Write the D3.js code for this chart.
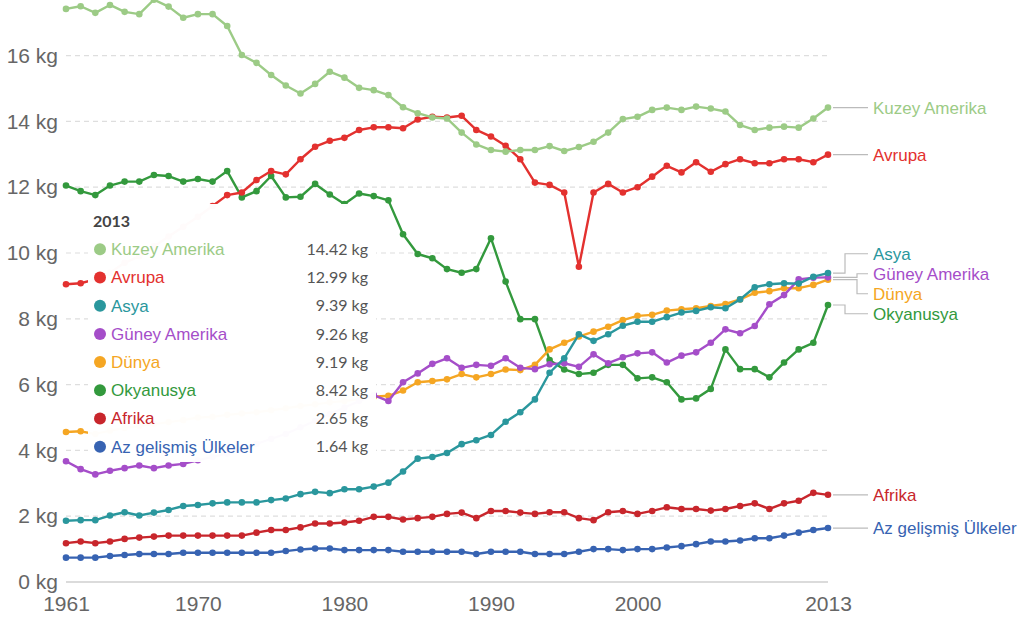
<!DOCTYPE html>
<html>
<head>
<meta charset="utf-8">
<script src="https://cdn.jsdelivr.net/npm/d3@7"></script>
<style>
  body { margin: 0; background: #fff; }
  svg { display: block; font-family: "Liberation Sans", Arial, sans-serif; }
</style>
</head>
<body>
<div id="chart"></div>
<script>
// DATA
const years = d3.range(1961, 2014);
const yTicks = [0, 2, 4, 6, 8, 10, 12, 14, 16];
const xTicks = [1961, 1970, 1980, 1990, 2000, 2013];

const kuzeyAmerika = [17.42,17.5,17.3,17.54,17.33,17.26,17.7,17.49,17.15,17.26,17.26,16.9,16.02,15.78,15.41,15.09,14.85,15.14,15.51,15.33,15.02,14.95,14.8,14.43,14.25,14.12,14.09,13.66,13.3,13.13,13.08,13.13,13.13,13.25,13.1,13.22,13.38,13.66,14.07,14.14,14.35,14.42,14.35,14.45,14.39,14.3,13.89,13.74,13.81,13.84,13.81,14.09,14.42];
const avrupa = [9.05,9.08,9.2,9.4,9.7,9.9,10.2,10.5,10.8,11.1,11.43,11.76,11.84,12.22,12.49,12.39,12.85,13.23,13.41,13.5,13.74,13.82,13.82,13.79,14.06,14.14,14.12,14.17,13.74,13.54,13.26,12.85,12.14,12.07,11.84,9.58,11.84,12.1,11.84,12.0,12.32,12.65,12.45,12.76,12.47,12.7,12.85,12.73,12.73,12.85,12.85,12.76,12.99];
const asya = [1.86,1.88,1.88,2.02,2.12,2.02,2.11,2.19,2.31,2.34,2.39,2.42,2.42,2.42,2.49,2.54,2.67,2.74,2.7,2.82,2.82,2.9,3.02,3.36,3.75,3.8,3.92,4.19,4.31,4.47,4.87,5.16,5.55,6.36,6.8,7.53,7.33,7.53,7.79,7.91,7.91,8.05,8.19,8.24,8.35,8.32,8.59,8.96,9.05,9.08,9.07,9.28,9.39];
const guneyAmerika = [3.67,3.43,3.27,3.38,3.46,3.54,3.46,3.54,3.59,3.7,3.8,3.9,4.05,4.2,4.35,4.5,4.7,4.9,5.1,5.3,5.5,5.68,5.5,6.07,6.34,6.63,6.8,6.51,6.6,6.57,6.8,6.51,6.47,6.62,6.65,6.54,6.92,6.65,6.83,6.95,6.98,6.67,6.88,6.98,7.27,7.68,7.56,7.78,8.44,8.72,9.2,9.25,9.26];
const dunya = [4.56,4.58,4.5,4.6,4.68,4.74,4.8,4.86,4.92,5.0,5.02,5.08,5.12,5.16,5.22,5.28,5.35,5.4,5.46,5.5,5.56,5.63,5.66,5.82,6.07,6.11,6.16,6.32,6.22,6.32,6.46,6.44,6.6,7.07,7.27,7.46,7.61,7.76,7.96,8.09,8.12,8.25,8.29,8.32,8.39,8.45,8.59,8.79,8.84,8.93,8.93,9.03,9.19];
const okyanusya = [12.05,11.88,11.76,12.05,12.17,12.17,12.37,12.34,12.17,12.25,12.17,12.49,11.69,11.88,12.34,11.69,11.71,12.1,11.78,11.49,11.81,11.73,11.6,10.57,9.97,9.84,9.51,9.4,9.51,10.45,9.13,7.99,7.99,6.75,6.46,6.32,6.36,6.6,6.6,6.19,6.22,6.07,5.55,5.58,5.87,7.07,6.47,6.47,6.22,6.67,7.07,7.27,8.42];
const afrika = [1.18,1.23,1.18,1.23,1.31,1.35,1.38,1.41,1.41,1.41,1.41,1.41,1.41,1.5,1.58,1.58,1.66,1.78,1.78,1.81,1.86,1.98,1.98,1.9,1.94,1.98,2.07,2.11,1.94,2.16,2.16,2.11,2.07,2.12,2.12,1.94,1.88,2.12,2.16,2.07,2.16,2.27,2.22,2.22,2.17,2.22,2.31,2.39,2.22,2.39,2.47,2.71,2.65];
const azGelismis = [0.74,0.74,0.74,0.79,0.82,0.85,0.85,0.85,0.89,0.89,0.89,0.89,0.89,0.89,0.89,0.94,0.99,1.02,1.02,0.97,0.97,0.97,0.97,0.92,0.92,0.92,0.92,0.92,0.85,0.92,0.92,0.92,0.85,0.85,0.85,0.92,1.0,1.0,0.97,1.0,1.0,1.05,1.09,1.15,1.23,1.23,1.26,1.33,1.33,1.41,1.5,1.58,1.64];

const seriesNames = ["Kuzey Amerika", "Avrupa", "Asya", "Güney Amerika", "Dünya", "Okyanusya", "Afrika", "Az gelişmiş Ülkeler"];
const seriesValues = [kuzeyAmerika, avrupa, asya, guneyAmerika, dunya, okyanusya, afrika, azGelismis];
const seriesColors = ["#9ccb86", "#e3312f", "#2a979d", "#a54ec9", "#f5a623", "#33993d", "#c8262c", "#3763b2"];

const series = seriesNames.map((name, i) => ({
    name: name,
    color: seriesColors[i],
    values: years.map((yr, j) => ({ year: yr, value: seriesValues[i][j] }))
}));

// CHART
const width = 1026, height = 622;
const svg = d3.select("#chart").append("svg")
    .attr("width", width)
    .attr("height", height);

const x = d3.scaleLinear().domain([1961, 2013]).range([66, 828]);
const y = d3.scaleLinear().domain([0, 16]).range([582, 55.6]);

// grid
svg.append("g")
    .selectAll("line")
    .data(yTicks)
    .enter()
    .append("line")
    .attr("x1", x(1961))
    .attr("x2", x(2013))
    .attr("y1", d => y(d))
    .attr("y2", d => y(d))
    .attr("stroke", d => d === 0 ? "#cfcfcf" : "#dedede")
    .attr("stroke-width", d => d === 0 ? 1.5 : 1.2)
    .attr("stroke-dasharray", d => d === 0 ? null : "5,4");

// axes
const yAxis = d3.axisLeft(y).tickValues(yTicks).tickFormat(d => d + " kg").tickSize(0).tickPadding(8);
const xAxis = d3.axisBottom(x).tickValues(xTicks).tickFormat(d3.format("d")).tickSize(0).tickPadding(14);

const yAxisGroup = svg.append("g")
    .attr("transform", `translate(${x(1961)},0)`)
    .call(yAxis);
const xAxisGroup = svg.append("g")
    .attr("transform", `translate(0,${y(0)})`)
    .call(xAxis);

[yAxisGroup, xAxisGroup].forEach(g => {
    g.select(".domain").remove();
    g.selectAll("text")
        .style("font-family", "'Liberation Sans', Arial, sans-serif")
        .style("font-size", "21px")
        .style("fill", "#666");
});

// lines + dots
const line = d3.line()
    .x(d => x(d.year))
    .y(d => y(d.value));

const seriesGroup = svg.append("g");
series.slice().reverse().forEach(s => {
    const g = seriesGroup.append("g");
    g.append("path")
        .datum(s.values)
        .attr("fill", "none")
        .attr("stroke", s.color)
        .attr("stroke-width", 2.4)
        .attr("stroke-linejoin", "round")
        .attr("d", line);
    g.selectAll("circle")
        .data(s.values)
        .enter()
        .append("circle")
        .attr("cx", d => x(d.year))
        .attr("cy", d => y(d.value))
        .attr("r", 3.3)
        .attr("fill", s.color);
});

// end labels (simple collision relaxation)
const labels = series.map(s => {
    const last = s.values[s.values.length - 1];
    return { name: s.name, color: s.color, dataY: y(last.value), ly: y(last.value) };
}).sort((a, b) => a.dataY - b.dataY);

const gap = 20;
let clusters = labels.map(l => ({ items: [l], top: l.dataY }));
let merged = true;
while (merged) {
    merged = false;
    for (let i = 0; i < clusters.length - 1; i++) {
        const a = clusters[i], b = clusters[i + 1];
        if (a.top + a.items.length * gap > b.top) {
            const items = a.items.concat(b.items);
            const top = d3.mean(items, (d, k) => d.dataY - k * gap);
            clusters.splice(i, 2, { items: items, top: top });
            merged = true;
            break;
        }
    }
}
clusters.forEach(c => {
    c.items.forEach((d, k) => {
        d.ly = c.top + k * gap;
        d.elbow = (k === 0 || k === c.items.length - 1) ? 845 : 857;
    });
});

const labelX = 873;
const endX = x(2013) + 5;
const labelGroup = svg.append("g");
labels.forEach(d => {
    const straight = Math.abs(d.ly - d.dataY) < 1.5;
    const path = straight
        ? `M${endX},${d.dataY}H${labelX - 5}`
        : `M${endX},${d.dataY}H${d.elbow}V${d.ly}H${labelX - 5}`;
    labelGroup.append("path")
        .attr("d", path)
        .attr("fill", "none")
        .attr("stroke", "#bbb")
        .attr("stroke-width", 1.2);
    labelGroup.append("text")
        .attr("x", labelX)
        .attr("y", d.ly)
        .attr("dy", "0.35em")
        .style("font-size", "17px")
        .style("fill", d.color)
        .text(d.name);
});

// tooltip box (2013)
const tip = svg.append("g");
tip.append("rect")
    .attr("x", 88)
    .attr("y", 204)
    .attr("width", 288)
    .attr("height", 258)
    .attr("fill", "#fff")
    .attr("fill-opacity", 0.98);

tip.append("text")
    .attr("x", 93)
    .attr("y", 221)
    .attr("dy", "0.35em")
    .style("font-family", "Lato, sans-serif")
    .style("font-weight", "bold")
    .style("font-size", "16px")
    .style("fill", "#444")
    .text("2013");

const rowY = d3.scaleLinear().domain([0, 1]).range([249.3, 277.5]);
series.forEach((s, i) => {
    const ry = rowY(i);
    tip.append("circle")
        .attr("cx", 100)
        .attr("cy", ry)
        .attr("r", 6)
        .attr("fill", s.color);
    tip.append("text")
        .attr("x", 111)
        .attr("y", ry)
        .attr("dy", "0.35em")
        .style("font-size", "17px")
        .style("fill", s.color)
        .text(s.name);
    tip.append("text")
        .attr("x", 368)
        .attr("y", ry)
        .attr("dy", "0.35em")
        .attr("text-anchor", "end")
        .style("font-family", "Lato, sans-serif")
        .style("font-size", "16px")
        .style("fill", "#555")
        .text(s.values[s.values.length - 1].value.toFixed(2) + " kg");
});
</script>
</body>
</html>
